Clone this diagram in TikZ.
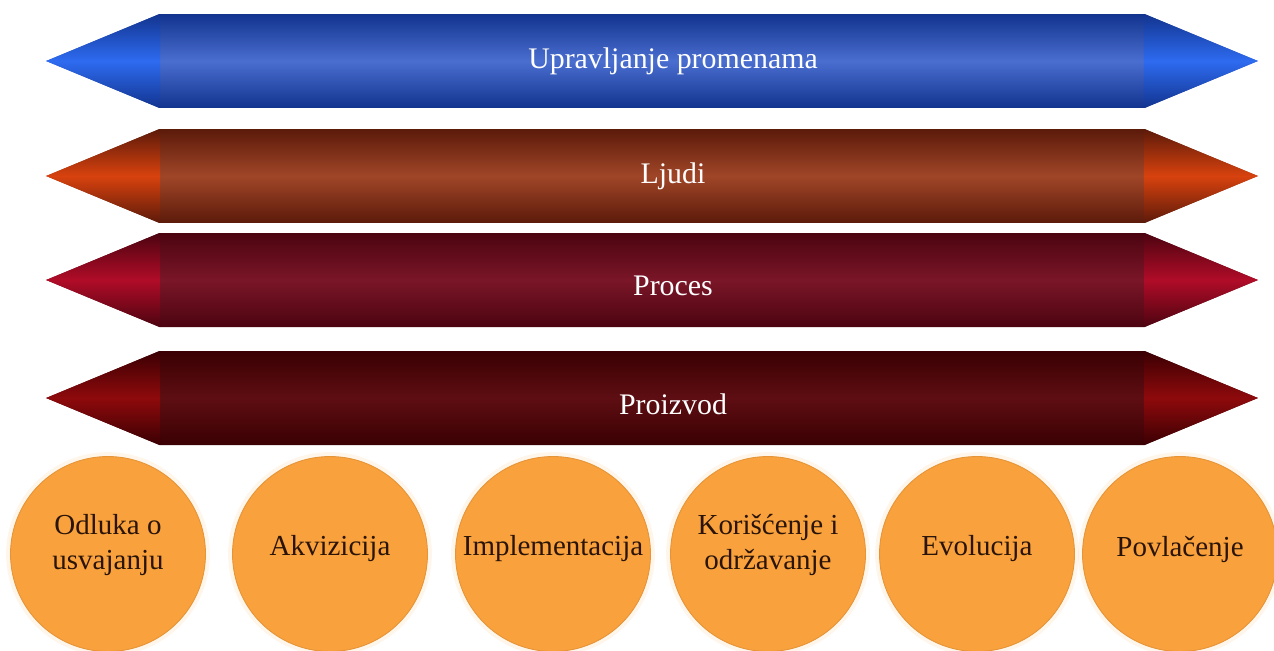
\documentclass[tikz,border=0pt]{standalone}
\usepackage{fontspec}
\setmainfont{Liberation Serif}
\usepackage{tikz}
\usetikzlibrary{shapes.arrows}
\definecolor{BlueEdge}{HTML}{12348F}
\definecolor{BlueMid}{HTML}{4A6ED0}
\definecolor{BlueTip}{HTML}{2E6BF0}
\definecolor{RustEdge}{HTML}{5C1A0A}
\definecolor{RustMid}{HTML}{A04628}
\definecolor{RustTip}{HTML}{D8420E}
\definecolor{WineEdge}{HTML}{4C0410}
\definecolor{WineMid}{HTML}{7A1628}
\definecolor{WineTip}{HTML}{B00C28}
\definecolor{OxEdge}{HTML}{3A0003}
\definecolor{OxMid}{HTML}{5E0E12}
\definecolor{OxTip}{HTML}{8E0A0C}
\definecolor{PhaseOrange}{HTML}{F9A13C}
\definecolor{PhaseText}{HTML}{2A1408}

\begin{document}
\begin{tikzpicture}[x=0.02cm, y=-0.02cm,
    band/.style n args={3}{double arrow, double arrow head extend=0pt,
        double arrow tip angle=45, minimum height=24.24cm, minimum width=1.88cm,
        inner sep=0pt, top color=#1, bottom color=#1, middle color=#2,
        path picture={
            \shade[top color=#1, bottom color=#1, middle color=#3]
                (path picture bounding box.south west) rectangle ([xshift=2.28cm]path picture bounding box.north west);
            \shade[top color=#1, bottom color=#1, middle color=#3]
                (path picture bounding box.south east) rectangle ([xshift=-2.28cm]path picture bounding box.north east);
        }},
    bandtext/.style={text=white, font=\fontsize{17pt}{20pt}\selectfont, xshift=0.42cm},
    phase/.style={circle, fill=PhaseOrange, draw=PhaseOrange!92!black, line width=0.5pt,
        minimum size=3.9cm, inner sep=0pt,
        preaction={draw=PhaseOrange, line width=5pt, opacity=0.1}},
    phasetext/.style={text=PhaseText, align=center, font=\fontsize{16.5pt}{20pt}\selectfont, yshift=0.1cm}]
    \useasboundingbox (0,0) rectangle (1274,650);

    \node[band={BlueEdge}{BlueMid}{BlueTip}, label={[bandtext]center:Upravljanje promenama}] (change) at (652,61) {};
    \node[band={RustEdge}{RustMid}{RustTip}, label={[bandtext]center:Ljudi}] (people) at (652,176) {};
    \node[band={WineEdge}{WineMid}{WineTip}, label={[bandtext, yshift=-0.12cm]center:Proces}] (process) at (652,280) {};
    \node[band={OxEdge}{OxMid}{OxTip}, label={[bandtext, yshift=-0.12cm]center:Proizvod}] (product) at (652,398) {};

    \node[phase, label={[phasetext, yshift=0.08cm]center:Odluka o\\usvajanju}] (decision) at (108,554) {};
    \node[phase, label={[phasetext]center:Akvizicija}] (acquisition) at (330,554) {};
    \node[phase, label={[phasetext]center:Implementacija}] (implementation) at (553,554) {};
    \node[phase, label={[phasetext, yshift=0.08cm]center:Korišćenje i\\održavanje}] (usage) at (768,554) {};
    \node[phase, label={[phasetext]center:Evolucija}] (evolution) at (977,554) {};
    \node[phase, label={[phasetext]center:Povlačenje}] (retirement) at (1180,554) {};
\end{tikzpicture}
\end{document}
